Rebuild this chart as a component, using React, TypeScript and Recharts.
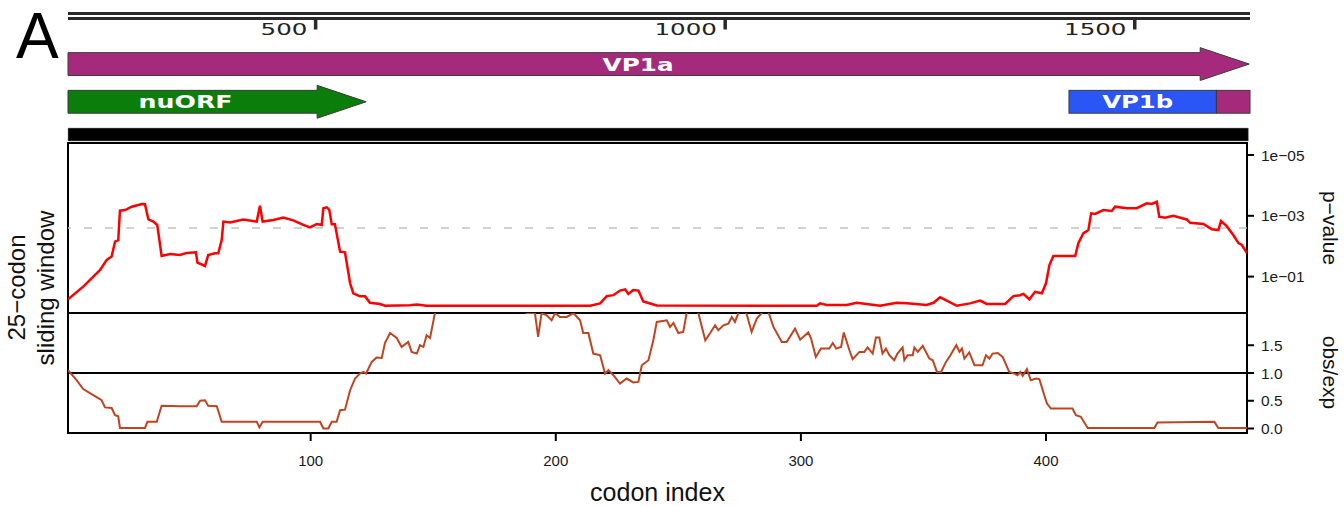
import React from 'react';
import { LineChart, Line, XAxis, YAxis, ReferenceLine, ReferenceArea } from 'recharts';

const SANS = "'Liberation Sans', Arial, Helvetica, sans-serif";
const DEJAVU = "'DejaVu Sans', Verdana, sans-serif";

// ---- genome annotation track (nucleotide coordinates) ----
const ntDomain: [number, number] = [198, 1641];
const scaleTicks = [500, 1000, 1500];
const geneNames = ['VP1a', 'nuORF', 'VP1b', ''];
const geneStarts = [198, 198, 1420, 1600];
const geneEnds = [1640, 562, 1600, 1641];
const geneRows = [0, 1, 1, 1];
const geneIsArrow = [true, true, false, false];
const geneColors = ['#a62a7b', '#0a7d0a', '#2b56f6', '#a62a7b'];
const geneLabelWidths = [71, 94, 71, 0];
const geneLabelShift = [4, -7, -5, 0];

// ---- codon axis ----
const codonDomain: [number, number] = [1, 482];
const codonTicks = [100, 200, 300, 400];

// ---- upper panel: -log10(p-value), 25-codon sliding window ----
const pCodons = [
  1, 7.2, 14.1, 16.8, 18.8, 20.2, 21.5, 22.2, 24.3, 27, 31.1, 32.4, 33.8, 35.8, 37.4, 39.2, 42.6, 46.7, 49.4,
  53.2, 53.8, 56.9, 58.2, 61, 62.3, 63.7, 64.4, 67.1, 72.5, 78, 79.3, 80.4, 84.8, 88.8, 92.9, 97, 99.7,
  102.5, 104.5, 105.2, 106.6, 107.6, 108.6, 109.9, 112, 114, 116.1, 117.4, 120.1, 122.2, 124.2, 128.3,
  130.3, 140.5, 143.3, 147.3, 160.9, 214, 218.1, 220.8, 223.5, 226.2, 228.3, 229.6, 231.6, 233.7, 235.7,
  237.1, 241.2, 291.5, 306.5, 307.8, 310.5, 318.7, 322.8, 332.3, 339.1, 343.2, 351.3, 354.1, 356.8, 359.5,
  363.6, 369, 373.1, 375.8, 383.3, 386.7, 389.4, 390.8, 393.2, 395.5, 398.3, 400, 401.4, 403, 411.9, 413.2,
  415.2, 417.3, 418.4, 420, 423.4, 426.8, 428.2, 432.9, 437, 441.1, 443.1, 445.2, 446.2, 448.5, 451.9,
  457.4, 458.8, 464.2, 467.6, 470.3, 471.4, 473.7, 476.4, 478.5, 479.9, 482,
];
const pScores = [
  0.25, 0.67, 1.22, 1.55, 1.66, 2.15, 2.2, 3.17, 3.19, 3.3, 3.39, 3.38, 2.88, 2.81, 2.7, 1.68, 1.74, 1.71, 1.78,
  1.8, 1.46, 1.35, 1.71, 1.77, 1.77, 2.2, 2.81, 2.78, 2.88, 2.81, 3.33, 2.81, 2.86, 2.94, 2.85, 2.7, 2.62,
  2.73, 2.7, 3.25, 3.28, 3.2, 2.72, 2.72, 1.82, 1.8, 0.78, 0.45, 0.35, 0.35, 0.14, 0.1,
  0.04, 0.06, 0.08, 0.04, 0.04, 0.04, 0.12, 0.36, 0.39, 0.54, 0.58, 0.43, 0.56, 0.54, 0.18,
  0.15, 0.05, 0.04, 0.04, 0.12, 0.07, 0.07, 0.14, 0.04, 0.14, 0.12, 0.07, 0.14, 0.32, 0.21,
  0.04, 0.12, 0.21, 0.1, 0.1, 0.36, 0.39, 0.43, 0.25, 0.5, 0.45, 0.78, 1.38, 1.68, 1.68, 2.1,
  2.42, 2.53, 3.08, 3.06, 3.19, 3.16, 3.3, 3.25, 3.25, 3.41, 3.39, 3.46, 2.97, 2.94, 3.0,
  2.88, 2.77, 2.73, 2.56, 2.53, 2.83, 2.66, 2.37, 2.1, 2.04, 1.77,
];
const pTicks = [1, 3, 5];
const pThreshold = 2.6;
const pDomain: [number, number] = [-0.197, 5.395];

// ---- lower panel: obs/exp ratio ----
const rCodons = [
  1, 4.5, 7.2, 11.3, 14.7, 16.1, 18.8, 20.2, 21.5, 22.2, 32.4, 33.4, 37.2, 39.2, 46.7, 53.5, 54.9, 56.9, 58.2,
  61.7, 63.7, 78, 79.1, 80.4, 103.8, 105.2, 107.2, 108.6, 110.6, 112, 114, 116.1, 118.1, 120.1, 121.5, 122.6,
  124.9, 126.9, 129, 130.3, 132.4, 135.1, 137.1, 139.8, 141.2, 143.3, 144.6, 146, 147.3, 148.7, 150.7, 153,
  160, 170, 180, 186, 188.1, 191.5, 192.8, 194.2, 196.3, 198.3, 199.7, 201.7, 204.5, 207.2, 209.9, 211.2,
  213.3, 215.3, 218.1, 220.1, 221.5, 223.5, 226.2, 228.9, 231.6, 233.7, 235.1, 237.8, 239.8, 241.2, 245.3,
  246.6, 248, 250, 252, 253.4, 255.8, 258.2, 258.9, 261, 263, 265, 266.3, 268.4, 270.4, 271.8, 273.1, 274.5,
  277, 279.9, 282, 284, 286, 288.8, 292.2, 294.2, 297.6, 299.7, 303, 304.1, 306.1, 308.2, 311.6, 313, 314.4,
  316.4, 317.5, 319.8, 321.1, 323.9, 325.9, 327.2, 329.3, 330.6, 332, 333.3, 334.7, 336.1, 338.1, 339.4,
  341.5, 342.2, 343.5, 345.6, 346.3, 347.7, 349.7, 352.4, 353.8, 355.5, 357.2, 359.2, 361, 363.4, 364.7,
  365.7, 366.7, 368.7, 370.8, 374.1, 375.5, 376.9, 378.2, 380.3, 382.3, 385, 387.1, 388.4, 389.5, 390.5,
  392.2, 393.8, 395.9, 397.3, 399.3, 400.4, 402, 410.8, 412.2, 414.2, 417, 444.2, 445.5, 468.7, 470.3, 482,
];
const rValues = [
  1.05, 0.87, 0.71, 0.6, 0.51, 0.38, 0.37, 0.24, 0.22, 0.01, 0.01, 0.12, 0.12, 0.41, 0.4, 0.4, 0.5, 0.51, 0.41,
  0.4, 0.12, 0.12, 0.02, 0.12, 0.12, 0.0, 0.0, 0.12, 0.12, 0.33, 0.34, 0.69, 0.9, 0.99, 1.02, 0.99,
  1.2, 1.28, 1.27, 1.54, 1.72, 1.63, 1.47, 1.56, 1.38, 1.35, 1.5, 1.47, 1.68, 1.63, 2.08, 2.3,
  2.5, 2.4, 2.6, 2.3, 2.08, 2.08, 1.65, 2.08, 2.04, 1.95, 2.08, 2.01, 2.01, 2.08, 1.95, 1.72,
  1.72, 1.35, 1.32, 0.99, 1.05, 0.96, 0.81, 0.9, 0.83, 0.84, 1.14, 1.23, 1.59, 1.92, 1.95,
  1.83, 1.9, 1.72, 1.74, 2.08, 2.25, 2.08, 1.95, 1.59, 1.72, 1.86, 1.77, 1.86, 1.89, 2.01, 1.92, 2.08,
  2.2, 1.74, 1.98, 2.08, 2.2, 1.83, 1.56, 1.56, 1.8, 1.6, 1.73, 1.63, 1.29, 1.44, 1.44, 1.54, 1.44,
  1.47, 1.73, 1.41, 1.25, 1.38, 1.38, 1.46, 1.35, 1.64, 1.64, 1.35, 1.44, 1.32, 1.23, 1.35,
  1.46, 1.23, 1.32, 1.32, 1.46, 1.38, 1.49, 1.26, 1.23, 1.02, 1.02, 1.2, 1.32, 1.5, 1.38,
  1.44, 1.26, 1.37, 1.14, 1.14, 1.32, 1.26, 1.35, 1.36, 1.29, 1.02, 0.99, 0.96, 1.02, 0.95,
  1.07, 0.87, 0.9, 0.89, 0.6, 0.45, 0.36, 0.36, 0.24, 0.21, 0.01, 0.01, 0.11, 0.12, 0.01, 0.01,
];
const rTicks = [0, 0.5, 1, 1.5];
const rDomain: [number, number] = [-0.081, 2.081];

const pData = pCodons.map((c, i) => ({ codon: c, s: pScores[i] }));
const rData = rCodons.map((c, i) => ({ codon: c, r: rValues[i] }));
const geneData = geneStarts.map((s, i) => ({ nt: s, end: geneEnds[i] }));

// layout of the annotation rows (pixels inside the track)
const trackDomain: [number, number] = [0, 143];
const rowTops = [52, 90];
const rowHeight = 23;

function GeneShape(props: any) {
  const { x, y, width, height, gi } = props;
  if (x == null || isNaN(x)) return null;
  const color = geneColors[gi];
  const head = 49;
  const over = 5;
  let body: React.ReactNode;
  let cx: number;
  if (geneIsArrow[gi]) {
    const bx = x + width - head;
    const pts = [
      [x, y], [bx, y], [bx, y - over], [x + width, y + height / 2],
      [bx, y + height + over], [bx, y + height], [x, y + height],
    ];
    body = <polygon points={pts.map((p) => p.join(',')).join(' ')} fill={color} stroke="#3a3a3a" strokeWidth={1} />;
    cx = x + (width - head) / 2;
  } else {
    body = <rect x={x} y={y} width={width} height={height} fill={color} stroke="#3a3a3a" strokeWidth={1} />;
    cx = x + width / 2;
  }
  const name = geneNames[gi];
  return (
    <g>
      {body}
      {name ? (
        <text
          x={cx + geneLabelShift[gi]}
          y={y + height / 2 + 6.5}
          textAnchor="middle"
          fontFamily={DEJAVU}
          fontWeight="bold"
          fontSize={17}
          fill="#ffffff"
          textLength={geneLabelWidths[gi]}
          lengthAdjust="spacingAndGlyphs"
        >
          {name}
        </text>
      ) : null}
    </g>
  );
}

function ScaleTick(props: any) {
  const { x, payload } = props;
  const label = String(payload.value);
  return (
    <g>
      <rect x={x - 1.5} y={18} width={3.5} height={11.5} fill="#2a2a2a" />
      <text
        x={x - 8}
        y={35}
        textAnchor="end"
        fontFamily={DEJAVU}
        fontSize={15}
        fill="#222"
        textLength={label.length * 15.6}
        lengthAdjust="spacingAndGlyphs"
      >
        {label}
      </text>
    </g>
  );
}

export default function App() {
  return (
    <div style={{ position: 'absolute', left: 0, top: 0, width: 1344, height: 507, background: '#fff', overflow: 'hidden' }}>
      {/* annotation track */}
      <div style={{ position: 'absolute', left: 0, top: 0 }}>
        <LineChart width={1344} height={143} data={geneData} margin={{ top: 0, right: 94, bottom: 0, left: 68 }}>
          <XAxis
            type="number"
            dataKey="nt"
            domain={ntDomain}
            ticks={scaleTicks}
            interval={0}
            orientation="top"
            height={1}
            axisLine={false}
            tickLine={false}
            tick={<ScaleTick />}
            allowDataOverflow
          />
          <YAxis type="number" domain={trackDomain} reversed hide allowDataOverflow />
          <ReferenceLine y={12.5} stroke="#2a2a2a" strokeWidth={3} ifOverflow="visible" />
          <ReferenceLine y={17.7} stroke="#2a2a2a" strokeWidth={3} ifOverflow="visible" />
          <ReferenceArea
            x1={ntDomain[0]}
            x2={ntDomain[1] - 2}
            y1={128}
            y2={141}
            fill="#000"
            fillOpacity={1}
            stroke="#888"
            strokeWidth={0.5}
            ifOverflow="visible"
          />
          {geneNames.map((_, i) => (
            <ReferenceArea
              key={i}
              x1={geneStarts[i]}
              x2={geneEnds[i]}
              y1={rowTops[geneRows[i]]}
              y2={rowTops[geneRows[i]] + rowHeight}
              ifOverflow="visible"
              shape={(p: any) => <GeneShape {...p} gi={i} />}
            />
          ))}
        </LineChart>
      </div>

      {/* upper panel: p-value */}
      <div style={{ position: 'absolute', left: 0, top: 133 }}>
        <LineChart width={1344} height={190} data={pData} margin={{ top: 10, right: 7, bottom: 10, left: 68 }}>
          <XAxis type="number" dataKey="codon" domain={codonDomain} hide allowDataOverflow />
          <YAxis
            type="number"
            orientation="right"
            width={90}
            domain={pDomain}
            ticks={pTicks}
            interval={0}
            allowDataOverflow
            axisLine={false}
            tickSize={7}
            tickMargin={7}
            tickLine={{ stroke: '#000', strokeWidth: 2 }}
            tick={{ fontSize: 15.5, fill: '#1a1a1a', fontFamily: SANS }}
            tickFormatter={(v: number) => `1e\u22120${v}`}
          />
          <ReferenceLine y={pThreshold} stroke="#c4c4c4" strokeWidth={1.5} strokeDasharray="8 13" />
          <Line type="linear" dataKey="s" stroke="#ff0000" strokeWidth={2.5} dot={false} isAnimationActive={false} />
          <ReferenceArea
            x1={codonDomain[0]}
            x2={codonDomain[1]}
            y1={pDomain[0]}
            y2={pDomain[1]}
            fill="none"
            fillOpacity={0}
            stroke="#000"
            strokeWidth={2}
            ifOverflow="visible"
          />
        </LineChart>
      </div>

      {/* lower panel: obs/exp */}
      <div style={{ position: 'absolute', left: 0, top: 303 }}>
        <LineChart width={1344} height={204} data={rData} margin={{ top: 10, right: 7, bottom: 0, left: 68 }}>
          <XAxis
            type="number"
            dataKey="codon"
            domain={codonDomain}
            ticks={codonTicks}
            interval={0}
            allowDataOverflow
            height={74}
            axisLine={false}
            tickSize={8}
            tickMargin={14}
            tickLine={{ stroke: '#000', strokeWidth: 2 }}
            tick={{ fontSize: 15, fill: '#1a1a1a', fontFamily: SANS }}
          />
          <YAxis
            type="number"
            orientation="right"
            width={90}
            domain={rDomain}
            ticks={rTicks}
            interval={0}
            allowDataOverflow
            axisLine={false}
            tickSize={7}
            tickMargin={7}
            tickLine={{ stroke: '#000', strokeWidth: 2 }}
            tick={{ fontSize: 15.5, fill: '#1a1a1a', fontFamily: SANS }}
            tickFormatter={(v: number) => v.toFixed(1)}
          />
          <ReferenceLine y={1} stroke="#000" strokeWidth={2} />
          <Line type="linear" dataKey="r" stroke="#bf4420" strokeWidth={2} dot={false} isAnimationActive={false} />
          <ReferenceArea
            x1={codonDomain[0]}
            x2={codonDomain[1]}
            y1={rDomain[0]}
            y2={rDomain[1]}
            fill="none"
            fillOpacity={0}
            stroke="#000"
            strokeWidth={2}
            ifOverflow="visible"
          />
        </LineChart>
      </div>

      {/* titles and axis captions */}
      <svg width={1344} height={507} style={{ position: 'absolute', left: 0, top: 0, pointerEvents: 'none' }}>
        <text x={16} y={58} fontFamily={SANS} fontSize={64} fill="#000">A</text>
        <text x={25} y={287.5} transform="rotate(-90 25 287.5)" textAnchor="middle" fontFamily={SANS} fontSize={24} fill="#111">25{'\u2212'}codon</text>
        <text x={53.5} y={288} transform="rotate(-90 53.5 288)" textAnchor="middle" fontFamily={SANS} fontSize={24} fill="#111">sliding window</text>
        <text x={1323} y={228} transform="rotate(90 1323 228)" textAnchor="middle" fontFamily={SANS} fontSize={21} fill="#111">p{'\u2212'}value</text>
        <text x={1323} y={372.5} transform="rotate(90 1323 372.5)" textAnchor="middle" fontFamily={SANS} fontSize={21} fill="#111">obs/exp</text>
        <text x={657.5} y={501} textAnchor="middle" fontFamily={SANS} fontSize={25} fill="#111">codon index</text>
      </svg>
    </div>
  );
}
